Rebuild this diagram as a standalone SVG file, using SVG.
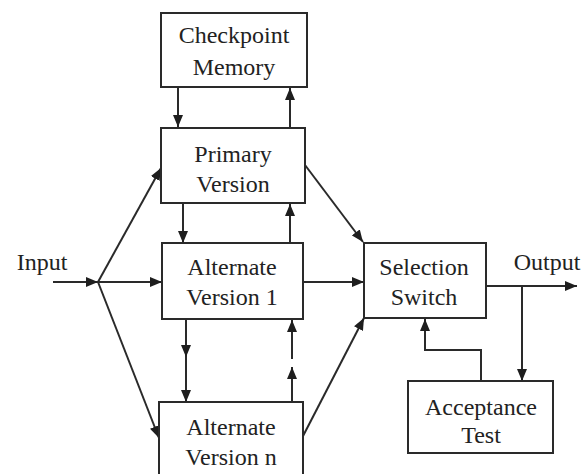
<svg xmlns="http://www.w3.org/2000/svg" width="587" height="474" viewBox="0 0 587 474">
<style>
  .box { fill: #ffffff; stroke: #2a2a2a; stroke-width: 2; }
  .lbl { font-family: "Liberation Serif", "Times New Roman", serif; font-size: 24px; fill: #222222; text-anchor: middle; }
  .con { fill: none; stroke: #2a2a2a; stroke-width: 2; }
</style>
<defs>
  <marker id="ah" markerUnits="userSpaceOnUse" markerWidth="12" markerHeight="10" refX="12" refY="5" orient="auto">
    <path d="M0,0 L12,5 L0,10 Z" fill="#1e1e1e"/>
  </marker>
</defs>
<rect width="587" height="474" fill="#ffffff"/>

<g id="connectors">
  <path class="con" d="M178,87 L178,127" marker-end="url(#ah)"/>
  <path class="con" d="M290,128 L290,88" marker-end="url(#ah)"/>
  <path class="con" d="M183,203 L183,243" marker-end="url(#ah)"/>
  <path class="con" d="M290,243 L290,204" marker-end="url(#ah)"/>
  <path class="con" d="M186,319 L186,357" marker-end="url(#ah)"/>
  <path class="con" d="M186,357 L186,402" marker-end="url(#ah)"/>
  <path class="con" d="M292,402 L292,367" marker-end="url(#ah)"/>
  <path class="con" d="M292,359 L292,320" marker-end="url(#ah)"/>
  <path class="con" d="M53,282 L98,282" marker-end="url(#ah)"/>
  <path class="con" d="M98,282 L162,282" marker-end="url(#ah)"/>
  <path class="con" d="M98,282 L161,168" marker-end="url(#ah)"/>
  <path class="con" d="M98,282 L159,438" marker-end="url(#ah)"/>
  <path class="con" d="M305,165 L363,242" marker-end="url(#ah)"/>
  <path class="con" d="M302,282 L364,282" marker-end="url(#ah)"/>
  <path class="con" d="M302,438 L364,318" marker-end="url(#ah)"/>
  <path class="con" d="M486,286 L577,286" marker-end="url(#ah)"/>
  <path class="con" d="M522,286 L522,381" marker-end="url(#ah)"/>
  <path class="con" d="M481,381 L481,350 L425,350 L425,319" marker-end="url(#ah)"/>
</g>

<g id="checkpoint">
  <rect class="box" x="161" y="13" width="146" height="74"/>
  <text class="lbl" x="234" y="43">Checkpoint</text>
  <text class="lbl" x="234" y="75">Memory</text>
</g>
<g id="primary">
  <rect class="box" x="161" y="128" width="144" height="75"/>
  <text class="lbl" x="233" y="162">Primary</text>
  <text class="lbl" x="233" y="192">Version</text>
</g>
<g id="alternate1">
  <rect class="box" x="162" y="243" width="141" height="76"/>
  <text class="lbl" x="232" y="275">Alternate</text>
  <text class="lbl" x="232" y="305">Version 1</text>
</g>
<g id="alternaten">
  <rect class="box" x="159" y="402" width="144" height="80"/>
  <text class="lbl" x="231" y="435">Alternate</text>
  <text class="lbl" x="231" y="465">Version n</text>
</g>
<g id="selection">
  <rect class="box" x="364" y="243" width="122" height="75"/>
  <text class="lbl" x="424" y="275">Selection</text>
  <text class="lbl" x="424" y="305">Switch</text>
</g>
<g id="acceptance">
  <rect class="box" x="408" y="381" width="145" height="72"/>
  <text class="lbl" x="481" y="415">Acceptance</text>
  <text class="lbl" x="481" y="443">Test</text>
</g>
<g id="input">
  <text class="lbl" x="42" y="270">Input</text>
</g>
<g id="output">
  <text class="lbl" x="547" y="270">Output</text>
</g>
</svg>
